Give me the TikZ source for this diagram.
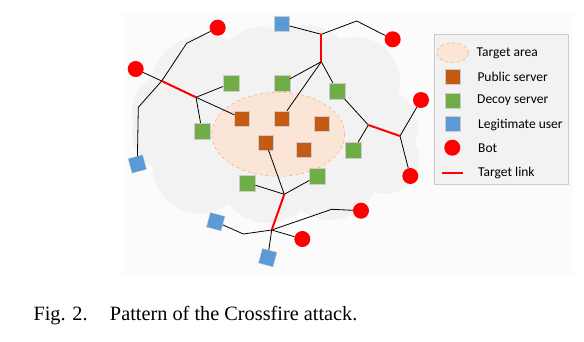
\documentclass[tikz,border=0pt]{standalone}
\usepackage{fontspec}
\setmainfont{Liberation Serif}
\newfontfamily\legendfont{Carlito}
\usetikzlibrary{shapes.geometric}
\definecolor{pubbrown}{HTML}{C55A11}
\definecolor{decoygreen}{HTML}{70AD47}
\definecolor{userblue}{HTML}{5B9BD5}
\definecolor{botred}{HTML}{FF0000}
\definecolor{areafill}{HTML}{FBE5D6}
\definecolor{areadraw}{HTML}{F4B183}
\definecolor{cloudgray}{HTML}{F2F2F2}
\definecolor{paper}{HTML}{FBFBFB}
\begin{document}
\begin{tikzpicture}[x=1pt, y=-1pt,
  bot/.style={circle, fill=botred, minimum size=16pt, inner sep=0pt},
  public/.style={rectangle, fill=pubbrown, draw=gray!40, line width=0.3pt, minimum size=15pt, inner sep=0pt},
  decoy/.style={rectangle, fill=decoygreen, draw=gray!40, line width=0.3pt, minimum size=16pt, inner sep=0pt},
  user/.style={rectangle, fill=userblue, draw=gray!40, line width=0.3pt, minimum size=15pt, inner sep=0pt},
  link/.style={draw=black, line width=0.8pt},
  tlink/.style={draw=botred, line width=2pt},
  legtext/.style={anchor=west, font=\legendfont\fontsize{13.5}{15}\selectfont, inner sep=0pt}]
  \useasboundingbox (0,0) rectangle (584,342);
  % Paper and cloud
  \fill[paper] (123,13) rectangle (573,275);
  \fill[cloudgray]
    (205,90) circle (55) (172,132) circle (40) (200,165) circle (48)
    (168,110) circle (36)
    (262,72) circle (45) (305,75) circle (50) (355,82) circle (45)
    (378,128) circle (40) (385,160) circle (34)
    (330,172) circle (48) (268,175) circle (48)
    (245,125) circle (60) (320,120) circle (60);
  % Target area
  \node[ellipse, fill=areafill, draw=areadraw, dashed, line width=0.6pt,
    minimum width=133pt, minimum height=84pt] (area) at (278.3,134.3) {};
  % Junctions and bends
  \coordinate (j1) at (161.7,81);
  \coordinate (j2) at (196,97.3);
  \coordinate (j3) at (321.3,34.3);
  \coordinate (j4) at (321.3,61.7);
  \coordinate (j5) at (368.3,125);
  \coordinate (j6) at (400,136);
  \coordinate (j7) at (284.3,194.3);
  \coordinate (j8) at (271.7,230);
  \coordinate (k1) at (186.7,43.3);
  \coordinate (k2) at (138.3,107.3);
  \coordinate (k3) at (356.7,21);
  \coordinate (k4) at (243.3,234);
  \coordinate (k5) at (331.7,209.3);
  % Bots
  \node[bot] (b1) at (217.7,27.7) {};
  \node[bot] (b2) at (135.7,69) {};
  \node[bot] (b3) at (392.7,39.3) {};
  \node[bot] (b4) at (421,100) {};
  \node[bot] (b5) at (410.3,176) {};
  \node[bot] (b6) at (361,210.7) {};
  \node[bot] (b7) at (302.3,239) {};
  % Legitimate users
  \node[user] (u1) at (282,24) {};
  \node[user, rotate=15] (u2) at (137.3,164) {};
  \node[user, rotate=-15] (u3) at (215.7,221.7) {};
  \node[user, rotate=-15] (u4) at (267.7,257.7) {};
  % Decoy servers
  \node[decoy] (d1) at (231,83.3) {};
  \node[decoy] (d2) at (281.7,83.3) {};
  \node[decoy] (d3) at (337.3,91) {};
  \node[decoy] (d4) at (202,131) {};
  \node[decoy] (d5) at (353.3,150.3) {};
  \node[decoy] (d6) at (247.3,182.7) {};
  \node[decoy] (d7) at (317.3,176) {};
  % Public servers
  \node[public] (p1) at (242,118.3) {};
  \node[public] (p2) at (281.7,118.3) {};
  \node[public] (p3) at (321.3,123.3) {};
  \node[public] (p4) at (265.7,142.3) {};
  \node[public] (p5) at (304,150) {};
  % Links
  \draw[link] (b1) -- (k1) -- (j1) -- (k2) -- (u2);
  \draw[link] (b2) -- (j1);
  \draw[link] (j2) -- (d1);
  \draw[link] (j2) -- (p1);
  \draw[link] (j2) -- (d4);
  \draw[link] (u1) -- (j3) -- (k3) -- (b3);
  \draw[link] (j4) -- (d2);
  \draw[link] (j4) -- (p2);
  \draw[link] (j4) -- (d3) -- (j5);
  \draw[link] (j5) -- (d5);
  \draw[link] (b4) -- (j6) -- (b5);
  \draw[link] (p4) -- (j7);
  \draw[link] (d6) -- (j7);
  \draw[link] (d7) -- (j7);
  \draw[link] (u3) -- (k4) -- (j8) -- (k5) -- (b6);
  \draw[link] (j8) -- (b7);
  \draw[link] (j8) -- (u4);
  % Target links
  \draw[tlink] (j1) -- (j2);
  \draw[tlink] (j3) -- (j4);
  \draw[tlink] (j5) -- (j6);
  \draw[tlink] (j7) -- (j8);
  % Legend
  \draw[gray!40, fill=cloudgray, line width=0.6pt] (434.3,34.3) rectangle (568.3,184);
  \node[ellipse, fill=areafill, draw=areadraw, dashed, line width=0.6pt,
    minimum width=32pt, minimum height=20pt] (kArea) at (452.7,52.7) {};
  \node[public] (kPublic) at (452.3,76.7) {};
  \node[decoy, minimum size=15pt] (kDecoy) at (452.3,100.3) {};
  \node[user] (kUser) at (452.3,124) {};
  \node[bot] (kBot) at (452.3,147.7) {};
  \coordinate (kLinkA) at (441.7,173.3);
  \coordinate (kLinkB) at (463.3,173.3);
  \draw[draw=botred, line width=1.6pt] (kLinkA) -- (kLinkB);
  \node[legtext] (tArea) at (476.5,53) {Target area};
  \node[legtext] (tPublic) at (477.3,77) {Public server};
  \node[legtext] (tDecoy) at (477,100.5) {Decoy server};
  \node[legtext] (tUser) at (478,124.5) {Legitimate user};
  \node[legtext] (tBot) at (478,148) {Bot};
  \node[legtext] (tLink) at (478,172.5) {Target link};
  % Caption
  \node[anchor=base west, inner sep=0pt, font=\fontsize{20.3}{24}\selectfont] (caption) at (33.3,320)
    {Fig. 2.\hspace{1.1em}Pattern of the Crossfire attack.};
\end{tikzpicture}
\end{document}
